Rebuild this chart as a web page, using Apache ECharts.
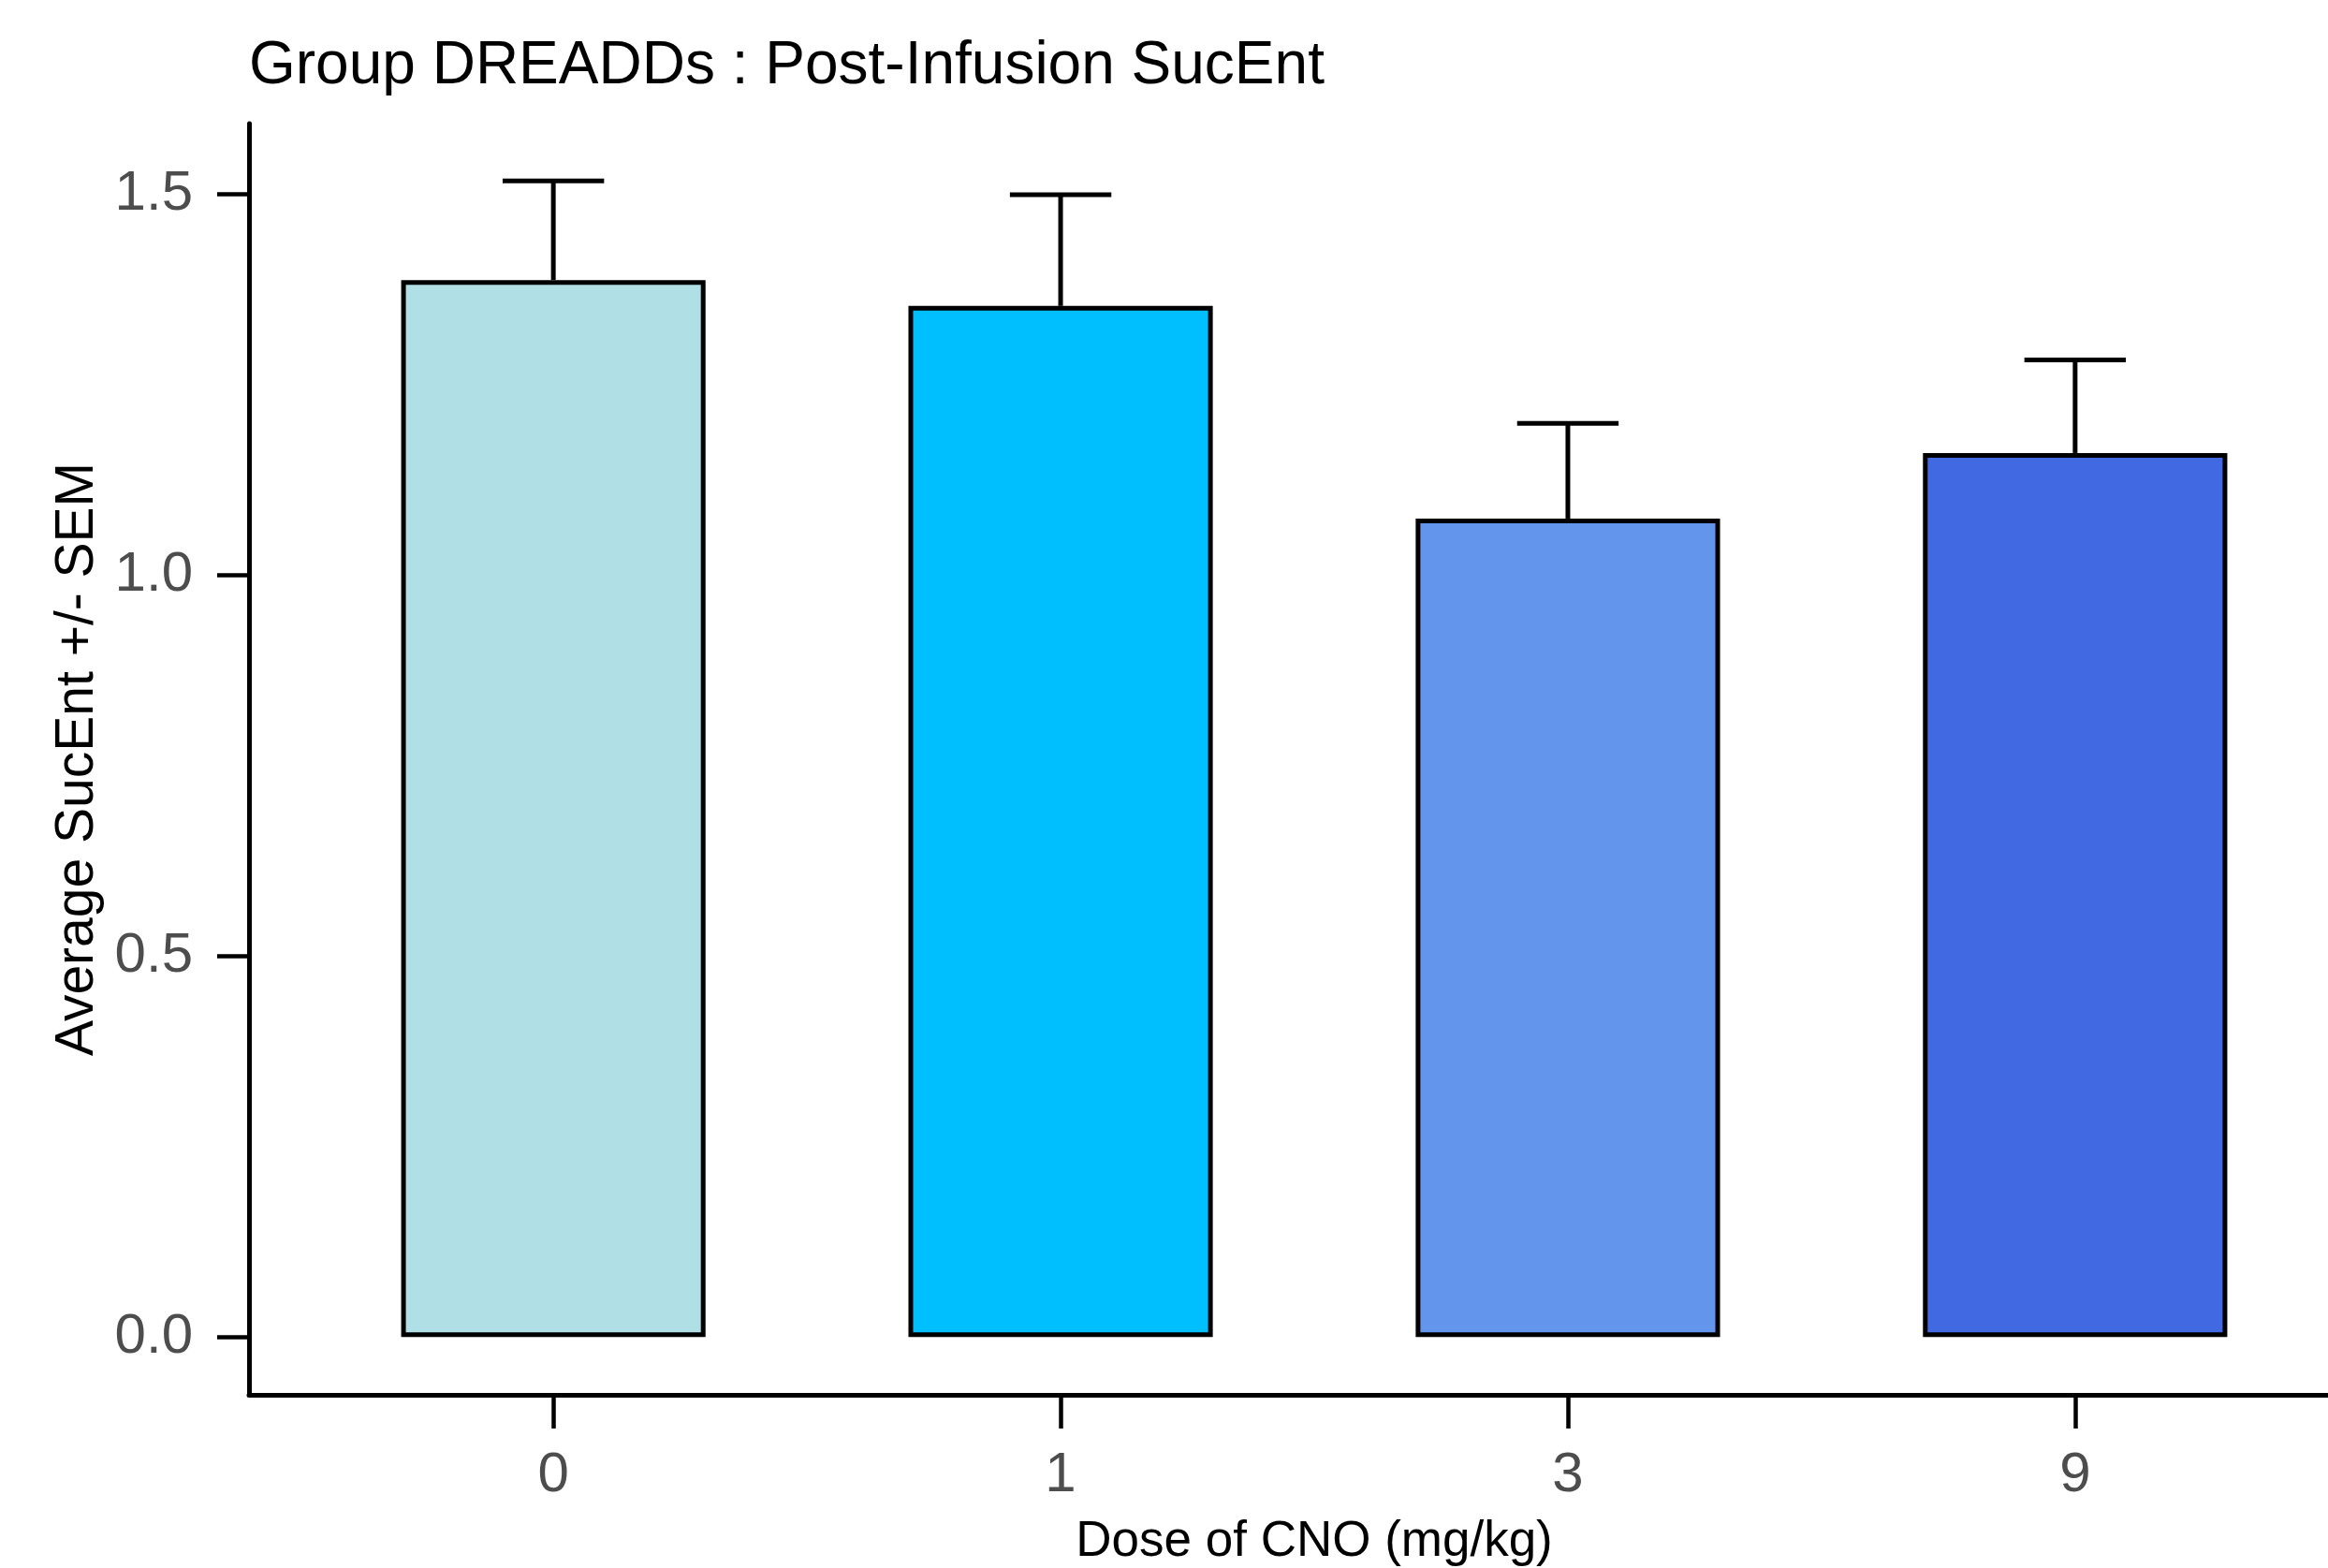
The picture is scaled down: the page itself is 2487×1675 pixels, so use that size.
<!DOCTYPE html>
<html>
<head>
<meta charset="utf-8">
<style>
  html, body { margin: 0; padding: 0; background: #ffffff; }
  #chart { width: 2487px; height: 1675px; }
</style>
<script src="https://cdn.jsdelivr.net/npm/echarts@6/dist/echarts.min.js"></script>
</head>
<body>
<div id="chart"></div>
<script>
// ---- data ----
const titleText = 'Group DREADDs : Post-Infusion SucEnt';
const categories = ['0', '1', '3', '9'];
const means = [1.387, 1.353, 1.074, 1.160];
const sems = [0.130, 0.146, 0.125, 0.122];
const barColors = ['#B0E0E6', '#00BFFF', '#6495ED', '#4169E1'];
const yTicks = [0, 0.5, 1.0, 1.5];
const xName = 'Dose of CNO (mg/kg)';
const yName = 'Average SucEnt +/- SEM';

const FONT = 'Liberation Sans, Arial, Helvetica, sans-serif';
const idx = categories.map((c, i) => i);

const chart = echarts.init(document.getElementById('chart'), null, { renderer: 'canvas' });

const barData = means.map((m, i) => ({
  value: [i, m],
  itemStyle: { color: barColors[i] }
}));
const errData = means.map((m, i) => [i, m, m + sems[i]]);

const option = {
  backgroundColor: '#ffffff',
  animation: false,
  title: {
    text: titleText,
    left: 261,
    top: 34,
    textStyle: { fontFamily: FONT, fontSize: 64, fontWeight: 'normal', color: '#000000' }
  },
  grid: { left: 266, width: 2276, top: 132, bottom: 185, containLabel: false, outerBoundsMode: 'none' },
  xAxis: {
    type: 'value',
    min: -0.6,
    max: 3.6,
    name: xName,
    nameLocation: 'middle',
    nameGap: 131,
    nameTextStyle: { fontFamily: FONT, fontSize: 53, color: '#000000' },
    axisLine: { show: true, onZero: false, lineStyle: { color: '#000000', width: 5 } },
    axisTick: { show: true, length: 36, customValues: idx, lineStyle: { color: '#000000', width: 4.5 } },
    axisLabel: {
      customValues: idx,
      margin: 56,
      fontFamily: FONT, fontSize: 60, color: '#4D4D4D',
      formatter: v => categories[Math.round(v)]
    },
    splitLine: { show: false }
  },
  yAxis: {
    type: 'value',
    min: -0.0758,
    max: 1.5923,
    name: yName,
    nameLocation: 'middle',
    nameGap: 145,
    nameTextStyle: { fontFamily: FONT, fontSize: 57, color: '#000000' },
    axisLine: { show: true, onZero: false, lineStyle: { color: '#000000', width: 5 } },
    axisTick: { show: true, length: 34, customValues: yTicks, lineStyle: { color: '#000000', width: 4.5 } },
    axisLabel: {
      customValues: yTicks,
      margin: 60,
      fontFamily: FONT, fontSize: 60, color: '#4D4D4D',
      formatter: v => v.toFixed(1)
    },
    splitLine: { show: false }
  },
  series: [
    {
      type: 'custom',
      z: 1,
      renderItem: function (params, api) {
        const x = api.value(0);
        const lo = api.coord([x, api.value(1)]);
        const hi = api.coord([x, api.value(2)]);
        const half = api.size([0.1, 0])[0];
        const style = { stroke: '#000000', lineWidth: 5, fill: null };
        return {
          type: 'group',
          children: [
            { type: 'line', shape: { x1: lo[0], y1: lo[1], x2: hi[0], y2: hi[1] }, style: style },
            { type: 'line', shape: { x1: hi[0] - half, y1: hi[1], x2: hi[0] + half, y2: hi[1] }, style: style }
          ]
        };
      },
      encode: { x: 0, y: [1, 2] },
      data: errData
    },
    {
      type: 'bar',
      z: 2,
      barWidth: '60%',
      itemStyle: { borderColor: '#000000', borderWidth: 5 },
      data: barData
    }
  ]
};

chart.setOption(option);
</script>
</body>
</html>
